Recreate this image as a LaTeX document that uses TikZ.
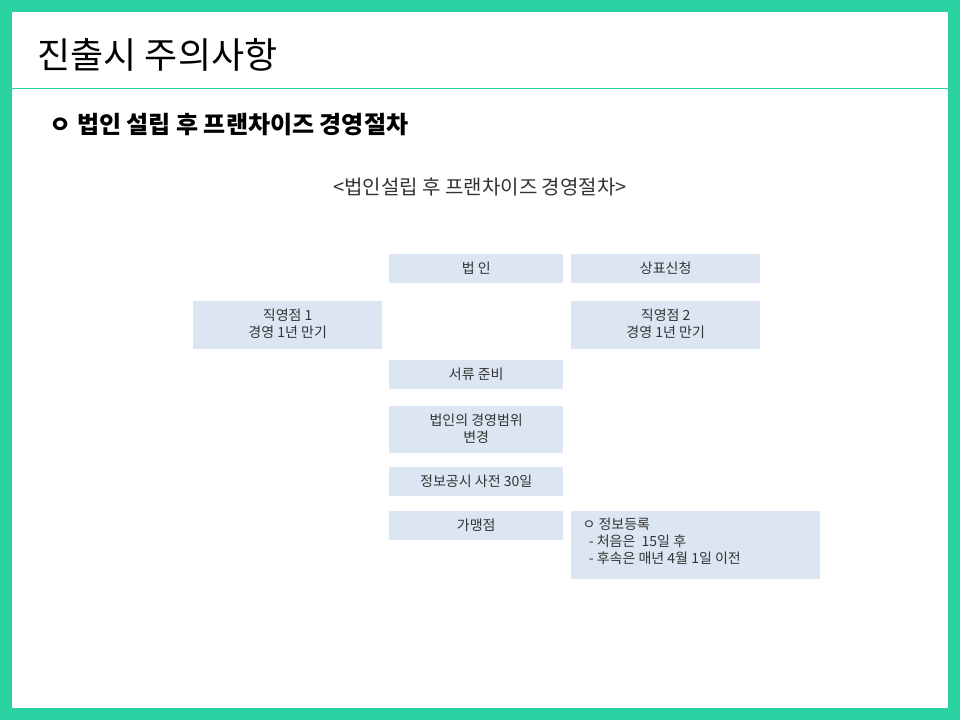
\documentclass[tikz,border=0pt]{standalone}
\usepackage{fontspec}
\setmainfont{Noto Sans CJK KR}
\usetikzlibrary{positioning}
\definecolor{frame}{HTML}{2BD1A0}
\definecolor{boxfill}{HTML}{DCE6F2}
\tikzset{
  cell/.style={fill=boxfill, anchor=north west, inner sep=0pt, align=center,
    font=\fontsize{13}{17}\selectfont, text=black!80},
  celltext/.style={anchor=north, align=center, font=\fontsize{14}{17}\selectfont, text=black!80},
}
\begin{document}
\begin{tikzpicture}[x=1pt,y=-1pt]
\fill[frame] (0,0) rectangle (960,720);
\fill[white] (12,12) rectangle (948,708);
\draw[frame,line width=1pt] (12,88) -- (948,88);
\node[anchor=west,font=\fontsize{36}{40}\selectfont] (title) at (34,55) {진출시 주의사항};
\node[anchor=west,font=\fontsize{24}{28}\selectfont\bfseries] (head) at (46,125) {ㅇ 법인 설립 후 프랜차이즈 경영절차};
\node[font=\fontsize{20}{24}\selectfont,text=black!80] (sub) at (480,187) {<법인설립 후 프랜차이즈 경영절차>};
% boxes
\node[cell,minimum width=174,minimum height=29] (corp) at (389,254) {};
\node[celltext] at ([yshift=-4]corp.north) {법 인};
\node[cell,minimum width=189,minimum height=29] (mark) at (571,254) {};
\node[celltext] at ([yshift=-4]mark.north) {상표신청};
\node[cell,minimum width=189,minimum height=48] (store1) at (193,301) {};
\node[celltext] at ([yshift=-4]store1.north) {직영점 1\\경영 1년 만기};
\node[cell,minimum width=189,minimum height=48] (store2) at (571,301) {};
\node[celltext] at ([yshift=-4]store2.north) {직영점 2\\경영 1년 만기};
\node[cell,minimum width=174,minimum height=29] (docs) at (389,360) {};
\node[celltext] at ([yshift=-4]docs.north) {서류 준비};
\node[cell,minimum width=174,minimum height=47] (scope) at (389,406) {};
\node[celltext] at ([yshift=-4]scope.north) {법인의 경영범위\\변경};
\node[cell,minimum width=174,minimum height=29] (notice) at (389,467) {};
\node[celltext] at ([yshift=-4]notice.north) {정보공시 사전 30일};
\node[cell,minimum width=174,minimum height=29] (member) at (389,511) {};
\node[celltext] at ([yshift=-4]member.north) {가맹점};
\node[cell,minimum width=249,minimum height=68] (reg) at (571,511) {};
\node[celltext,anchor=north west,align=left] at ([xshift=8,yshift=-3]reg.north west) {ㅇ 정보등록\\\ \ - 처음은\ \ 15일 후\\\ \ - 후속은 매년 4월 1일 이전};
\end{tikzpicture}
\end{document}
